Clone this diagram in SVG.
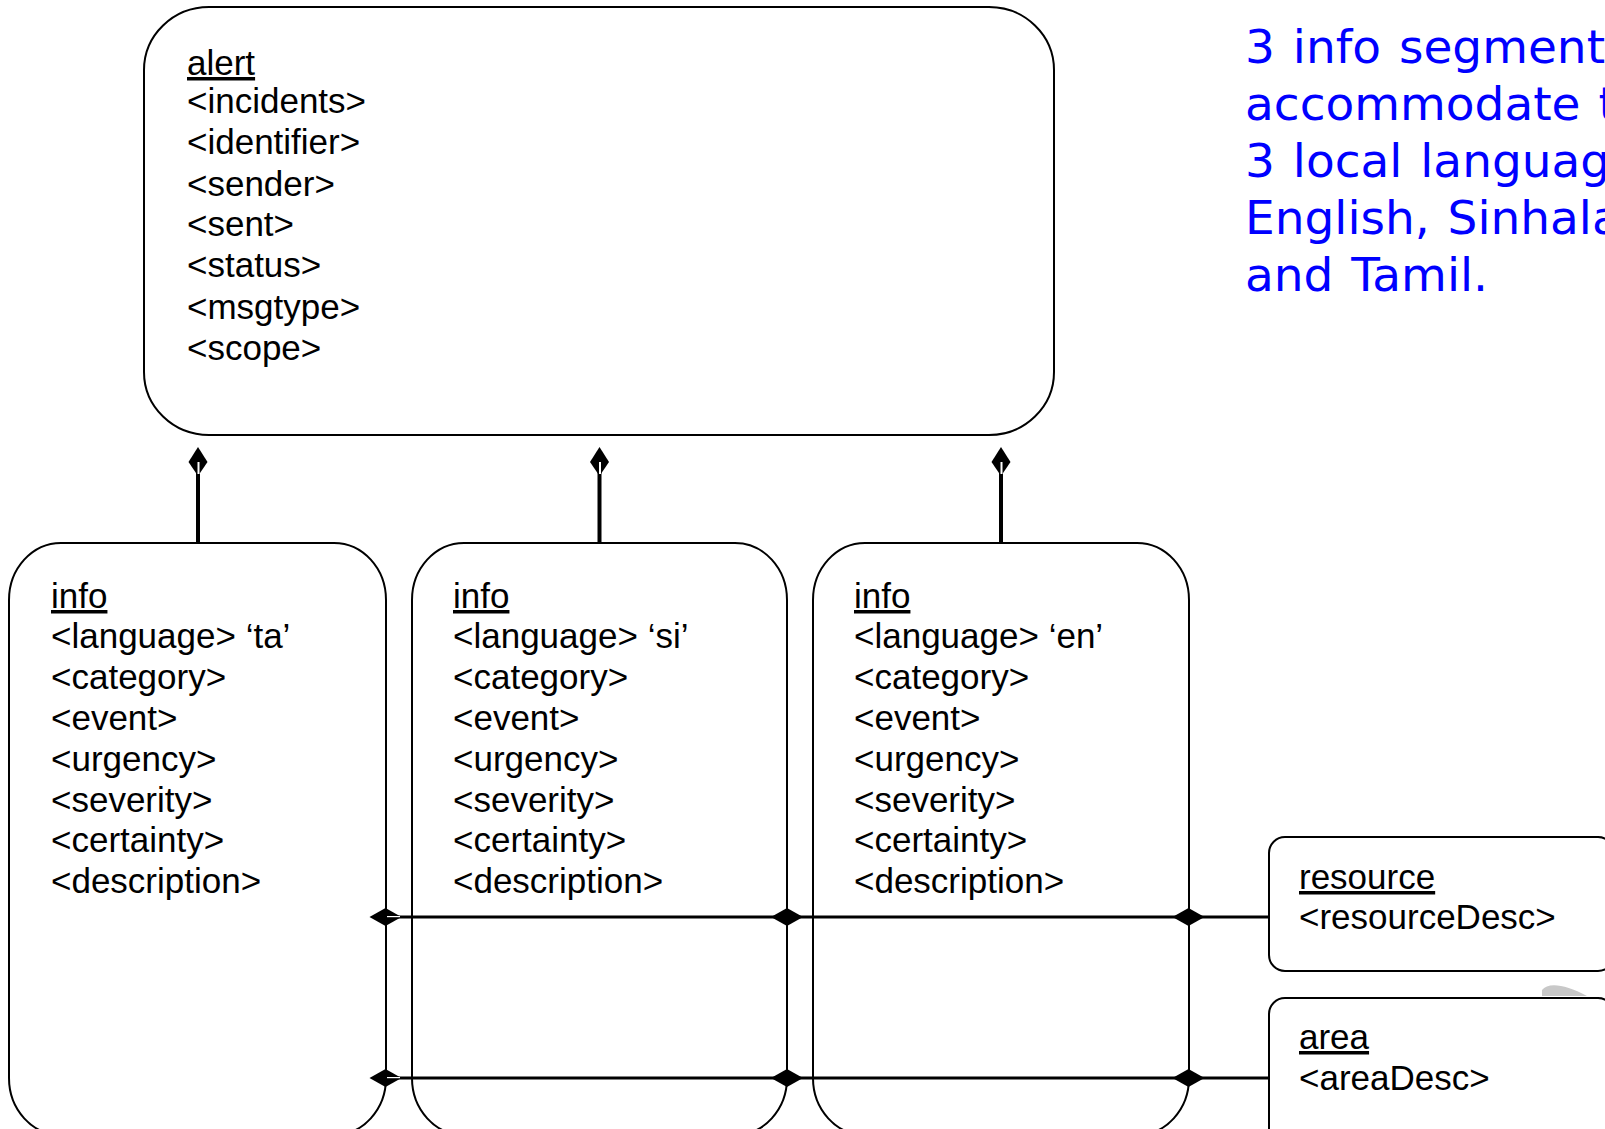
<svg xmlns="http://www.w3.org/2000/svg" width="1605" height="1129" viewBox="0 0 1605 1129">
<style>
.box{fill:#fff;stroke:#000;stroke-width:2}
.t{font-family:"Liberation Sans",Arial,sans-serif;font-size:35px;fill:#000}
.u{text-decoration:underline}
.note{font-family:"DejaVu Sans",Verdana,sans-serif;font-size:47px;word-spacing:3px;fill:#0000ff}
.stem{stroke:#000;stroke-width:4;fill:none}
.hline{stroke:#000;stroke-width:3;fill:none}
.dia{fill:#000}
</style>
<defs>
<path id="vdia" d="M0,-15 L9.5,0 L0,14 L-9.5,0 Z"/>
<path id="hdia" d="M-16,0 L0,-9 L16,0 L0,9 Z"/>
</defs>
<rect width="1605" height="1129" fill="#fff"/>

<g id="note">
<text class="note" x="1245" y="63">3 info segment</text>
<text class="note" x="1245" y="120">accommodate t</text>
<text class="note" x="1245" y="177">3 local languag</text>
<text class="note" x="1245" y="234">English, Sinhala</text>
<text class="note" x="1245" y="291">and Tamil.</text>
</g>

<g id="alert">
<rect class="box" x="144" y="7" width="910" height="428" rx="65" ry="63"/>
<text class="t"><tspan class="u" x="187" y="75">alert</tspan><tspan x="187" y="113">&lt;incidents&gt;</tspan><tspan x="187" y="154">&lt;identifier&gt;</tspan><tspan x="187" y="196">&lt;sender&gt;</tspan><tspan x="187" y="236">&lt;sent&gt;</tspan><tspan x="187" y="277">&lt;status&gt;</tspan><tspan x="187" y="319">&lt;msgtype&gt;</tspan><tspan x="187" y="360">&lt;scope&gt;</tspan></text>
</g>

<g id="info-ta">
<rect class="box" x="9" y="543" width="377" height="592" rx="52" ry="57"/>
<text class="t"><tspan class="u" x="51" y="608">info</tspan><tspan x="51" y="648">&lt;language&gt; ‘ta’</tspan><tspan x="51" y="689">&lt;category&gt;</tspan><tspan x="51" y="730">&lt;event&gt;</tspan><tspan x="51" y="771">&lt;urgency&gt;</tspan><tspan x="51" y="812">&lt;severity&gt;</tspan><tspan x="51" y="852">&lt;certainty&gt;</tspan><tspan x="51" y="893">&lt;description&gt;</tspan></text>
</g>

<g id="info-si">
<rect class="box" x="412" y="543" width="375" height="592" rx="52" ry="57"/>
<text class="t"><tspan class="u" x="453" y="608">info</tspan><tspan x="453" y="648">&lt;language&gt; ‘si’</tspan><tspan x="453" y="689">&lt;category&gt;</tspan><tspan x="453" y="730">&lt;event&gt;</tspan><tspan x="453" y="771">&lt;urgency&gt;</tspan><tspan x="453" y="812">&lt;severity&gt;</tspan><tspan x="453" y="852">&lt;certainty&gt;</tspan><tspan x="453" y="893">&lt;description&gt;</tspan></text>
</g>

<g id="info-en">
<rect class="box" x="813" y="543" width="376" height="592" rx="52" ry="57"/>
<text class="t"><tspan class="u" x="854" y="608">info</tspan><tspan x="854" y="648">&lt;language&gt; ‘en’</tspan><tspan x="854" y="689">&lt;category&gt;</tspan><tspan x="854" y="730">&lt;event&gt;</tspan><tspan x="854" y="771">&lt;urgency&gt;</tspan><tspan x="854" y="812">&lt;severity&gt;</tspan><tspan x="854" y="852">&lt;certainty&gt;</tspan><tspan x="854" y="893">&lt;description&gt;</tspan></text>
</g>

<g id="resource">
<rect class="box" x="1269" y="837" width="345" height="134" rx="16" ry="16"/>
<text class="t"><tspan class="u" x="1299" y="889">resource</tspan><tspan x="1299" y="929">&lt;resourceDesc&gt;</tspan></text>
</g>

<g id="area">
<rect class="box" x="1269" y="998" width="345" height="150" rx="16" ry="16"/>
<text class="t"><tspan class="u" x="1299" y="1049">area</tspan><tspan x="1299" y="1090">&lt;areaDesc&gt;</tspan></text>
</g>

<path d="M1542,990 C1548,982 1565,984 1587,996 L1542,996 Z" fill="#c8c8c8"/>

<g id="connectors">
<line class="stem" x1="198" y1="470" x2="198" y2="543"/>
<line class="stem" x1="599.5" y1="470" x2="599.5" y2="543"/>
<line class="stem" x1="1001" y1="470" x2="1001" y2="543"/>
<use href="#vdia" class="dia" x="198" y="462"/>
<use href="#vdia" class="dia" x="599.5" y="462"/>
<use href="#vdia" class="dia" x="1001" y="462"/>
<rect x="197.5" y="462" width="2" height="12" fill="#fff"/>
<rect x="599" y="462" width="2" height="12" fill="#fff"/>
<rect x="1000.5" y="462" width="2" height="12" fill="#fff"/>

<line class="hline" x1="385" y1="917" x2="1269" y2="917"/>
<line class="hline" x1="385" y1="1078" x2="1269" y2="1078"/>
<use href="#hdia" class="dia" x="385.5" y="917"/>
<use href="#hdia" class="dia" x="787" y="917"/>
<use href="#hdia" class="dia" x="1188.5" y="917"/>
<use href="#hdia" class="dia" x="385.5" y="1078"/>
<use href="#hdia" class="dia" x="787" y="1078"/>
<use href="#hdia" class="dia" x="1188.5" y="1078"/>
<rect x="387" y="916" width="13" height="1.2" fill="#fff"/>
<rect x="387" y="1077" width="13" height="1.2" fill="#fff"/>
</g>
</svg>
